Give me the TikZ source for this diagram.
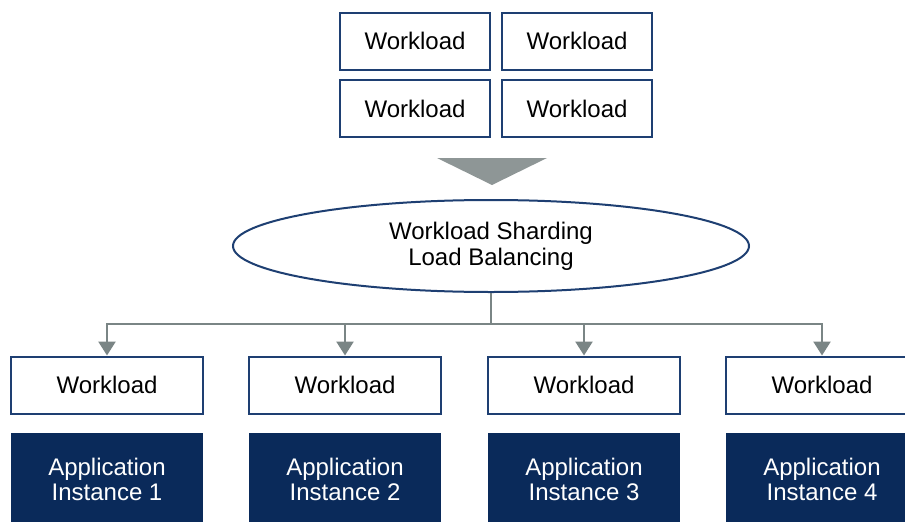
\documentclass[tikz,border=0pt]{standalone}
\usepackage{fontspec}
\setmainfont{Liberation Sans}
\usetikzlibrary{shapes.geometric,arrows.meta}
\definecolor{navy}{HTML}{1E3F72}
\definecolor{darknavy}{HTML}{0A2A5A}
\definecolor{linegray}{HTML}{7A8585}
\definecolor{trigray}{HTML}{8E9696}
\tikzset{
  wbox/.style={draw=navy, line width=2pt, fill=white, minimum width=#1, minimum height=57pt,
    inner sep=0pt, font=\fontsize{24}{26}\selectfont},
  appbox/.style={fill=darknavy, minimum width=192pt, minimum height=92pt, inner sep=0pt,
    text=white, align=center, font=\fontsize{24}{25}\selectfont},
  balancer/.style={draw=navy, line width=2pt, ellipse, minimum width=516pt, minimum height=92pt,
    inner sep=0pt, align=center, font=\fontsize{24}{26}\selectfont},
  conn/.style={draw=linegray, line width=2.5pt},
  feed/.style={conn, -{Triangle[width=17pt,length=14pt]}}
}
\begin{document}
\begin{tikzpicture}[x=1pt,y=-1pt]
  \clip (0,0) rectangle (905,522);
  \fill[white] (0,0) rectangle (905,522);

  % incoming workloads
  \node[wbox=150pt] (t1) at (415,41) {Workload};
  \node[wbox=150pt] (t2) at (577,41) {Workload};
  \node[wbox=150pt] (t3) at (415,108.5) {Workload};
  \node[wbox=150pt] (t4) at (577,108.5) {Workload};

  % downward indicator
  \coordinate (ta) at (437,158);
  \coordinate (tb) at (547,158);
  \coordinate (tc) at (492,185);
  \fill[trigray] (ta) -- (tb) -- (tc) -- cycle;

  % sharding / load balancing stage
  \node[balancer] (lb) at (491,246) {Workload Sharding\\Load Balancing};

  % per-instance workloads and application instances
  \foreach \i/\x in {1/107,2/345,3/584,4/822}{
    \node[wbox=192pt] (w\i) at (\x,385) {Workload};
    \node[appbox] (a\i) at (\x,479) {Application\\Instance \i};
  }

  % distribution bus
  \coordinate (bus) at (lb.south |- 0,324);
  \draw[conn] (lb.south) -- (bus);
  \foreach \i in {1,2,3,4}{
    \draw[feed] (bus) -| (w\i.north);
  }
\end{tikzpicture}
\end{document}
